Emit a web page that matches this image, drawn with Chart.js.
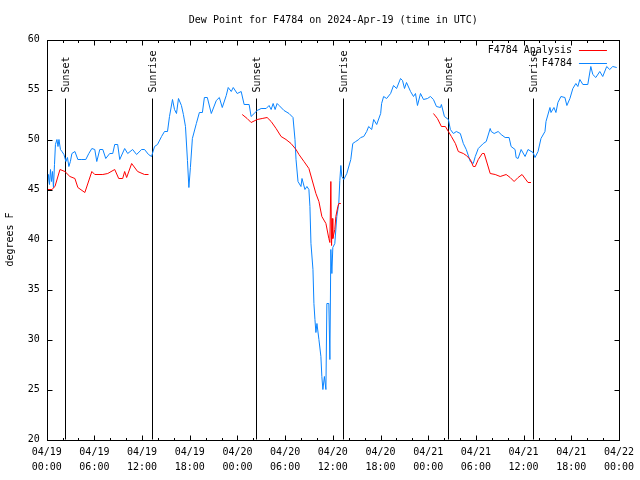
<!DOCTYPE html>
<html>
<head>
<meta charset="utf-8">
<script src="https://cdn.jsdelivr.net/npm/chart.js@4/dist/chart.umd.min.js"></script>
<style>
  html, body { margin: 0; padding: 0; background: #fff; }
  canvas { display: block; }
</style>
</head>
<body>
<canvas id="dew" width="640" height="480"></canvas>
<script>
// hours since 2024-04-19 00:00 UTC
var stationHours = [0.10, 0.23, 0.35, 0.48, 0.60, 0.73, 0.85, 0.98, 1.10, 1.29, 1.42, 1.54, 1.73, 1.92, 2.17, 2.42, 2.61, 2.79, 2.98, 3.17,
  3.55, 3.92, 4.42, 4.92, 5.30, 5.68, 6.05, 6.30, 6.68, 7.06, 7.43, 7.93, 8.31, 8.56, 8.93, 9.19, 9.81, 10.19, 10.81, 11.31,
  11.94, 12.31, 12.81, 13.19, 13.57, 13.94, 14.45, 14.82, 15.20, 15.45, 15.83, 16.08, 16.33, 16.58, 16.95, 17.20, 17.46, 17.71, 17.89, 18.08,
  18.33, 18.83, 19.21, 19.59, 19.84, 20.21, 20.71, 21.34, 21.72, 22.09, 22.59, 22.84, 23.22, 23.47, 23.97, 24.47, 24.84, 25.47, 25.72, 26.10,
  26.48, 26.98, 27.61, 27.98, 28.24, 28.49, 28.74, 28.99, 29.24, 29.86, 30.49, 30.99, 31.24, 31.37, 31.62, 31.99, 32.12, 32.49, 32.74, 32.99,
  33.12, 33.25, 33.50, 33.62, 33.75, 33.87, 34.00, 34.25, 34.50, 34.62, 34.75, 34.94, 35.13, 35.25, 35.50, 35.63, 35.75, 35.88, 36.00, 36.25,
  36.50, 36.75, 36.88, 37.01, 37.13, 37.38, 37.76, 38.26, 38.51, 38.88, 39.26, 39.51, 39.89, 40.26, 40.51, 40.89, 41.14, 41.52, 42.02, 42.14,
  42.39, 42.77, 43.27, 43.64, 44.02, 44.52, 44.77, 45.02, 45.27, 45.78, 46.15, 46.40, 46.65, 47.03, 47.41, 47.91, 48.28, 48.66, 49.04, 49.54,
  49.66, 50.04, 50.54, 50.79, 51.17, 51.54, 52.04, 52.42, 52.79, 53.30, 53.67, 53.92, 54.30, 54.93, 55.30, 55.80, 55.93, 56.30, 56.80, 57.18,
  57.68, 58.18, 58.43, 58.93, 59.06, 59.31, 59.69, 60.19, 60.56, 61.19, 61.44, 61.82, 62.19, 62.69, 62.82, 63.32, 63.45, 63.82, 64.07, 64.32,
  64.70, 65.20, 65.45, 65.83, 66.20, 66.58, 66.83, 67.08, 67.46, 68.08, 68.46, 68.71, 69.09, 69.59, 69.96, 70.46, 70.84, 71.22, 71.72];
var stationDew = [45.5, 46.5, 45.5, 47.0, 45.8, 46.8, 45.2, 47.5, 49.5, 50.0, 49.3, 50.0, 49.0, 48.8, 48.5, 47.8, 48.2, 47.3, 47.8, 48.6,
  48.8, 48.0, 48.0, 48.0, 48.6, 49.1, 49.0, 47.8, 49.0, 49.0, 48.1, 48.6, 48.6, 49.5, 49.5, 48.0, 49.1, 48.6, 49.0, 48.5,
  49.0, 49.0, 48.5, 48.3, 49.3, 49.5, 50.3, 50.8, 50.8, 52.3, 54.0, 53.0, 52.6, 54.1, 53.4, 52.5, 51.3, 47.9, 45.2, 47.2,
  50.1, 51.6, 52.7, 52.7, 54.2, 54.2, 52.6, 53.9, 54.2, 53.2, 54.4, 55.2, 54.8, 55.2, 54.6, 54.8, 53.5, 53.5, 52.3, 52.6,
  52.9, 53.1, 53.1, 53.4, 53.0, 53.6, 53.0, 53.6, 53.4, 52.9, 52.6, 52.2, 50.0, 48.0, 45.8, 45.3, 46.1, 45.0, 45.3, 45.0,
  43.3, 39.6, 37.0, 33.6, 32.0, 30.7, 31.6, 30.0, 28.3, 26.3, 25.0, 26.3, 25.0, 33.6, 33.6, 28.0, 39.0, 36.6, 39.2, 39.6,
  42.3, 43.6, 45.9, 47.4, 46.3, 46.0, 46.6, 48.0, 49.6, 49.8, 50.0, 50.2, 50.3, 50.8, 51.3, 51.0, 52.0, 51.5, 52.6, 53.6,
  54.3, 54.1, 54.6, 55.4, 55.1, 56.1, 55.9, 55.1, 55.7, 54.8, 54.3, 54.6, 53.4, 54.6, 54.0, 54.1, 54.3, 54.0, 53.3, 53.2,
  53.5, 52.3, 52.0, 51.0, 50.6, 50.8, 50.6, 49.6, 49.0, 47.8, 47.6, 48.3, 49.1, 49.6, 49.8, 51.1, 50.8, 50.6, 50.8, 50.5,
  50.2, 50.2, 49.3, 49.0, 48.2, 48.1, 49.0, 48.3, 49.0, 48.7, 48.2, 48.8, 50.1, 50.8, 51.8, 53.2, 52.7, 53.2, 52.7, 53.7,
  54.3, 54.2, 53.4, 54.1, 55.1, 55.6, 55.3, 56.0, 55.5, 55.5, 57.3, 56.5, 56.2, 56.8, 56.3, 57.3, 57.0, 57.3, 57.2];

// analysis has gaps (null) between runs
var analysisHours = [0.16, 0.66, 1.04, 1.67, 2.29, 2.92, 3.55, 3.92, 4.80, 5.68, 6.05, 7.06, 7.68, 8.56, 9.06, 9.56, 9.81, 10.06, 10.69, 11.44, 12.31, 12.81,
  18.0,
  24.60, 25.22, 25.72, 26.48, 27.11, 27.73, 28.24, 28.86, 29.49, 30.11, 30.74, 31.37, 31.74, 32.37, 32.99, 33.87, 34.25, 34.62, 35.13, 35.50, 35.63, 35.75, 35.84, 35.92, 36.00, 36.25, 36.38, 36.63, 36.75, 37.01,
  42.0,
  48.66, 49.16, 49.66, 50.16, 50.54, 50.92, 51.42, 51.79, 52.42, 52.79, 53.30, 53.67, 53.92, 54.30, 54.80, 55.05, 55.80, 56.43, 57.06, 57.81, 58.31, 58.81, 59.31, 59.81, 60.56, 60.93];
var analysisDew = [45.0, 45.0, 45.3, 47.0, 46.8, 46.3, 46.1, 45.2, 44.7, 46.8, 46.5, 46.5, 46.6, 47.0, 46.1, 46.1, 46.8, 46.2, 47.6, 46.8, 46.5, 46.5,
  null,
  52.5, 52.1, 51.7, 52.0, 52.1, 52.2, 51.8, 51.1, 50.3, 50.0, 49.6, 49.0, 48.5, 47.8, 47.1, 44.6, 43.8, 42.3, 41.6, 40.1, 39.7, 45.8, 39.4, 42.1, 40.1, 41.0, 42.3, 43.3, 43.6, 43.6,
  null,
  52.6, 52.1, 51.3, 51.3, 50.8, 50.3, 49.6, 48.8, 48.6, 48.4, 48.0, 47.3, 47.3, 48.0, 48.6, 48.6, 46.6, 46.5, 46.3, 46.5, 46.2, 45.8, 46.2, 46.5, 45.7, 45.7];

var xTickLabels = [
  ["04/19", "00:00"], ["04/19", "06:00"], ["04/19", "12:00"], ["04/19", "18:00"],
  ["04/20", "00:00"], ["04/20", "06:00"], ["04/20", "12:00"], ["04/20", "18:00"],
  ["04/21", "00:00"], ["04/21", "06:00"], ["04/21", "12:00"], ["04/21", "18:00"],
  ["04/22", "00:00"]
];

var sunLabels = ["Sunset", "Sunrise", "Sunset", "Sunrise", "Sunset", "Sunrise"];
var sunHours = [2.33, 13.23, 26.39, 37.32, 50.45, 61.23];

var chartTitle = "Dew Point for F4784 on 2024-Apr-19 (time in UTC)";

var RED = "#ff0000";
var BLUE = "#0a84ff";
var FONT = '"DejaVu Sans Mono", "Liberation Mono", monospace';

var legendRows = [
  { label: "F4784 Analysis", color: RED },
  { label: "F4784", color: BLUE }
];

function toPoints(hrs, vals) {
  var pts = [];
  for (var i = 0; i < hrs.length; i++) {
    pts.push({ x: hrs[i], y: vals[i] });
  }
  return pts;
}

// gnuplot style frame: title, box, inward ticks, sun markers, legend
var gnuFrame = {
  id: "gnuFrame",
  beforeDatasetsDraw: function (chart) {
    var ctx = chart.ctx, a = chart.chartArea, x = chart.scales.x;
    ctx.save();
    ctx.strokeStyle = "#000";
    ctx.fillStyle = "#000";
    ctx.lineWidth = 1;
    ctx.font = "10px " + FONT;
    for (var i = 0; i < sunHours.length; i++) {
      var px = Math.round(x.getPixelForValue(sunHours[i])) + 0.5;
      ctx.beginPath();
      ctx.moveTo(px, a.bottom);
      ctx.lineTo(px, a.top + 59);
      ctx.stroke();
      ctx.save();
      ctx.translate(px + 1, a.top + 53);
      ctx.rotate(-Math.PI / 2);
      ctx.textAlign = "left";
      ctx.textBaseline = "middle";
      ctx.fillText(sunLabels[i], 0, 0);
      ctx.restore();
    }
    ctx.restore();
  },
  afterDraw: function (chart) {
    var ctx = chart.ctx, a = chart.chartArea, x = chart.scales.x, y = chart.scales.y;
    ctx.save();
    ctx.fillStyle = "#000";
    ctx.font = "10px " + FONT;
    ctx.textAlign = "center";
    ctx.textBaseline = "middle";
    ctx.fillText(chartTitle, (a.left + a.right) / 2 + 0.5, 20);

    ctx.strokeStyle = "#000";
    ctx.lineWidth = 1;
    var L = Math.round(a.left) + 0.5, R = Math.round(a.right) + 0.5;
    var T = Math.round(a.top) + 0.5, B = Math.round(a.bottom) + 0.5;
    ctx.strokeRect(L, T, R - L, B - T);
    ctx.beginPath();
    for (var h = 0; h <= 72; h += 2) {
      var px = Math.round(x.getPixelForValue(h)) + 0.5;
      var len = h % 6 === 0 ? 5 : 2.5;
      ctx.moveTo(px, B); ctx.lineTo(px, B - len);
      ctx.moveTo(px, T); ctx.lineTo(px, T + len);
    }
    y.ticks.forEach(function (t) {
      var py = Math.round(y.getPixelForValue(t.value)) + 0.5;
      ctx.moveTo(L, py); ctx.lineTo(L + 5, py);
      ctx.moveTo(R, py); ctx.lineTo(R - 5, py);
    });
    ctx.stroke();

    ctx.textAlign = "right";
    for (var i = 0; i < legendRows.length; i++) {
      var ry = Math.round(a.top + 10 + i * 13) + 0.5;
      ctx.fillStyle = "#000";
      ctx.fillText(legendRows[i].label, a.right - 47, ry);
      ctx.strokeStyle = legendRows[i].color;
      ctx.beginPath();
      ctx.moveTo(a.right - 40, ry);
      ctx.lineTo(a.right - 12, ry);
      ctx.stroke();
    }
    ctx.restore();
  }
};

Chart.defaults.font.family = FONT;
Chart.defaults.font.size = 10;
Chart.defaults.color = "#000";

var ctx = document.getElementById("dew");
var chart = new Chart(ctx, {
  type: "line",
  data: {
    datasets: [
      {
        label: "F4784 Analysis",
        data: toPoints(analysisHours, analysisDew),
        borderColor: RED,
        borderWidth: 1,
        pointRadius: 0,
        spanGaps: false,
        tension: 0
      },
      {
        label: "F4784",
        data: toPoints(stationHours, stationDew),
        borderColor: BLUE,
        borderWidth: 1,
        pointRadius: 0,
        tension: 0
      }
    ]
  },
  options: {
    responsive: false,
    animation: false,
    devicePixelRatio: 1,
    layout: { padding: { left: 0, right: 18.7, top: 39.5, bottom: 0 } },
    plugins: {
      legend: { display: false },
      tooltip: { enabled: false },
      title: { display: false }
    },
    scales: {
      x: {
        type: "linear",
        min: 0,
        max: 72,
        grid: { display: false, drawTicks: false },
        border: { display: false },
        ticks: {
          stepSize: 6,
          autoSkip: false,
          maxRotation: 0,
          padding: 6,
          font: { size: 10, lineHeight: 1.45 },
          callback: function (v) { return xTickLabels[Math.round(v / 6)]; }
        },
        afterFit: function (s) { s.height = 40.5; }
      },
      y: {
        min: 20,
        max: 60,
        grid: { display: false, drawTicks: false },
        border: { display: false },
        ticks: { stepSize: 5, padding: 7 },
        title: {
          display: true,
          text: "degrees F",
          font: { size: 10 },
          padding: { top: 4, bottom: 0 }
        },
        afterFit: function (s) { s.width = 46.7; }
      }
    }
  },
  plugins: [gnuFrame]
});
</script>
</body>
</html>
